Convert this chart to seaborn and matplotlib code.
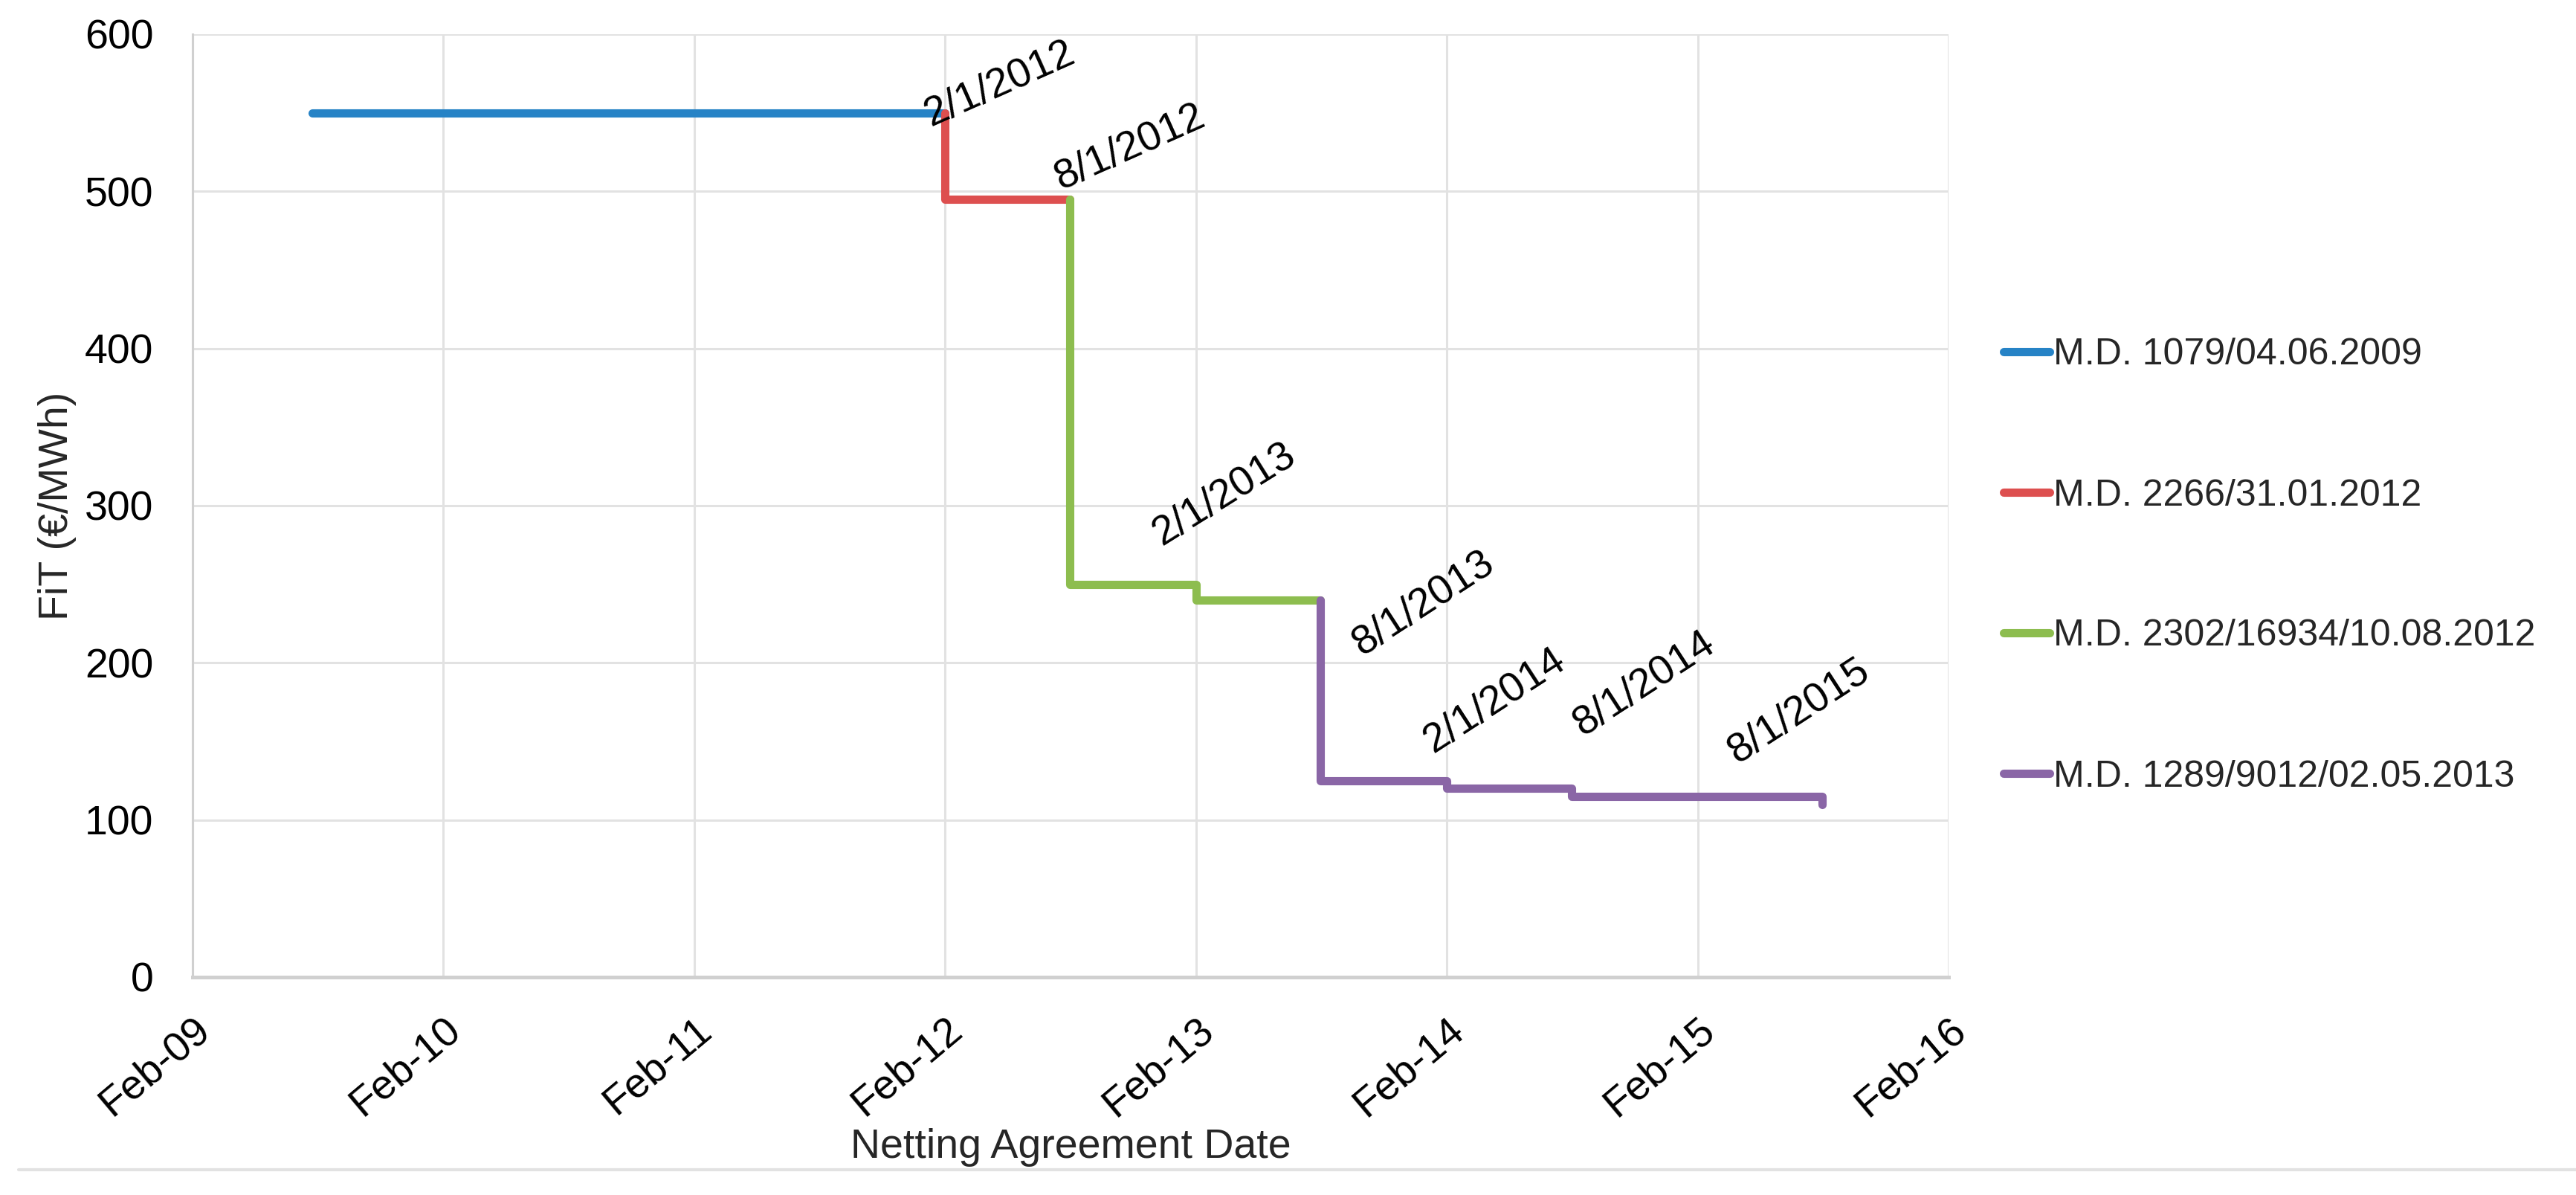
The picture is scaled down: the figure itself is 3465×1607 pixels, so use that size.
import pandas as pd
import matplotlib.pyplot as plt
import seaborn as sns
from matplotlib.lines import Line2D

# series (legend names) and colours
series_names = ['M.D. 1079/04.06.2009', 'M.D. 2266/31.01.2012',
                'M.D. 2302/16934/10.08.2012', 'M.D. 1289/9012/02.05.2013']
series_colors = ['#2683C6', '#DD4F4F', '#8DBD4F', '#8A66A6']

# step points of each series (date, FiT in EUR/MWh)
blue_dates = ['2009-07-25', '2012-02-01']
blue_fit = [550, 550]
red_dates = ['2012-02-01', '2012-02-01', '2012-08-01']
red_fit = [550, 495, 495]
green_dates = ['2012-08-01', '2012-08-01', '2013-02-01', '2013-02-01', '2013-08-01']
green_fit = [495, 250, 250, 240, 240]
purple_dates = ['2013-08-01', '2013-08-01', '2014-02-01', '2014-02-01', '2014-08-01',
                '2014-08-01', '2015-08-01', '2015-08-01']
purple_fit = [240, 125, 125, 120, 120, 115, 115, 110]

# date labels on the chart and the step point they belong to
label_texts = ['2/1/2012', '8/1/2012', '2/1/2013', '8/1/2013', '2/1/2014', '8/1/2014', '8/1/2015']
label_dates = ['2012-02-01', '2012-08-01', '2013-02-01', '2013-08-01', '2014-02-01', '2014-08-01', '2015-08-01']
label_fit = [550, 495, 250, 240, 125, 120, 115]
# offsets (points) and angles for the labels
label_offsets = [(-7, -6.5), (-4.3, 4.7), (-16.6, 18.4), (20, -27), (-6.8, 13.3), (5.4, 25.2), (-41, 15.8)]
label_angles = [24, 24, 32, 33, 33, 33, 33]

xtick_dates = ['2009-02-01', '2010-02-01', '2011-02-01', '2012-02-01', '2013-02-01',
               '2014-02-01', '2015-02-01', '2016-02-01']
xtick_labels = ['Feb-09', 'Feb-10', 'Feb-11', 'Feb-12', 'Feb-13', 'Feb-14', 'Feb-15', 'Feb-16']
yticks = [0, 100, 200, 300, 400, 500, 600]

parts = []
for name, d, v in zip(series_names,
                      [blue_dates, red_dates, green_dates, purple_dates],
                      [blue_fit, red_fit, green_fit, purple_fit]):
    parts.append(pd.DataFrame({'date': pd.to_datetime(d), 'fit': v, 'series': name}))
df = pd.concat(parts, ignore_index=True)

sns.set_style('white')
plt.rcParams['font.family'] = ['Liberation Sans', 'DejaVu Sans']

fig = plt.figure(figsize=(17.33, 8.035), dpi=200)
ax = fig.add_axes([259 / 3466, 1 - 1314 / 1607, 2362 / 3466, 1268 / 1607])

sns.lineplot(data=df, x='date', y='fit', hue='series', palette=series_colors,
             hue_order=series_names, sort=False, estimator=None, linewidth=4.0,
             solid_capstyle='round', ax=ax, legend=False)

for txt, d, v, off, ang in zip(label_texts, label_dates, label_fit, label_offsets, label_angles):
    ax.annotate(txt, xy=(pd.Timestamp(d), v), xytext=off, textcoords='offset points',
                rotation=ang, rotation_mode='anchor', ha='left', va='baseline',
                fontsize=20, color='black')

ax.set_xlim(pd.Timestamp(xtick_dates[0]), pd.Timestamp(xtick_dates[-1]))
ax.set_ylim(0, 600)
ax.set_xticks(pd.to_datetime(xtick_dates))
ax.set_xticklabels(xtick_labels, rotation=40, ha='right', va='top', rotation_mode='anchor')
ax.set_yticks(yticks)
ax.tick_params(axis='both', length=0, labelsize=20, colors='black')
ax.tick_params(axis='x', pad=16)
ax.tick_params(axis='y', pad=19)

ax.grid(True, color='#e2e2e2', linewidth=1.1)
for s in ['top', 'right']:
    ax.spines[s].set_visible(False)
ax.spines['left'].set_color('#d0d0d0')
ax.spines['left'].set_linewidth(1.1)
ax.spines['bottom'].set_color('#d0d0d0')
ax.spines['bottom'].set_linewidth(1.8)

ax.set_xlabel('Netting Agreement Date', fontsize=20)
ax.set_ylabel('FiT (€/MWh)', fontsize=20)
ax.xaxis.set_label_coords(0.5, -0.16)
ax.yaxis.set_label_coords(-0.066, 0.5)

handles = [Line2D([], [], color=c, linewidth=4.0, solid_capstyle='round') for c in series_colors]
fig.legend(handles, series_names, loc='center left', bbox_to_anchor=(2695 / 3466, 1 - 761 / 1607),
           frameon=False, fontsize=18, handlelength=1.25, handletextpad=0.1,
           labelspacing=2.86, borderpad=0, borderaxespad=0)

fig.add_artist(Line2D([25 / 3466, 1], [1 - 1573 / 1607] * 2, color='#e2e2e2', linewidth=1.5))

fig.savefig('out.png', dpi=200)
